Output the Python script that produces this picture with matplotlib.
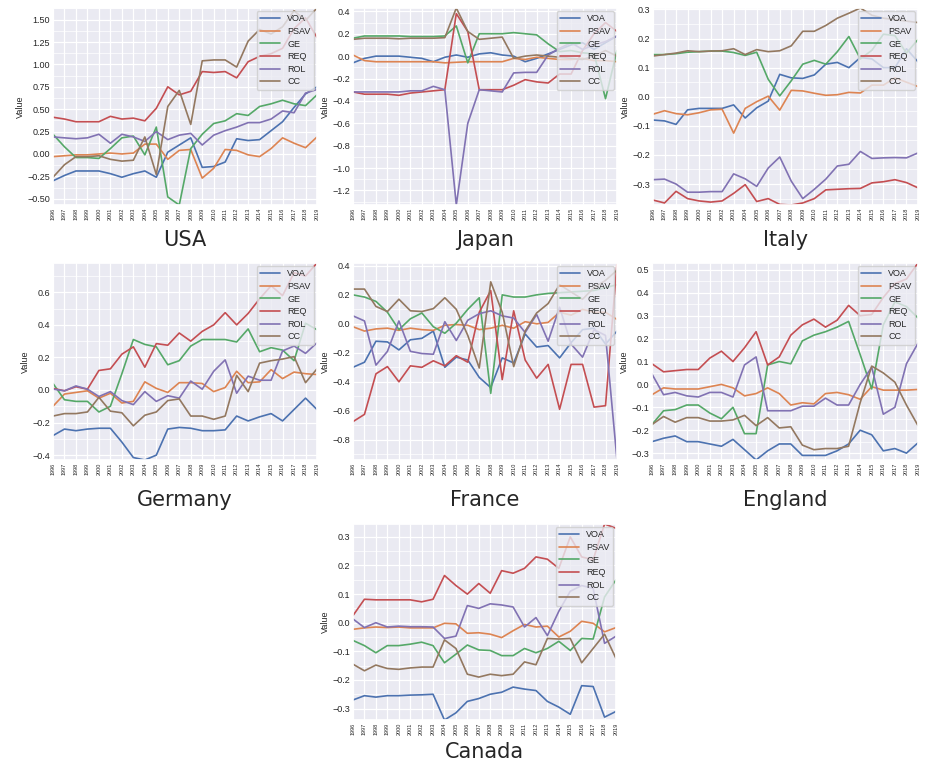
import matplotlib
matplotlib.use('Agg')
import matplotlib.pyplot as plt
from matplotlib.ticker import AutoMinorLocator, MultipleLocator
import seaborn as sns

# governance indicators per country, 1996-2019
years = [str(y) for y in range(1996, 2020)]
indicators = ['VOA', 'PSAV', 'GE', 'REQ', 'ROL', 'CC']

usa = {
    'VOA':  [-0.30, -0.24, -0.19, -0.19, -0.19, -0.22, -0.26, -0.22, -0.19, -0.26, 0.02, 0.10,
             0.18, -0.15, -0.14, -0.09, 0.17, 0.15, 0.16, 0.26, 0.36, 0.52, 0.67, 0.75],
    'PSAV': [-0.03, -0.02, -0.01, -0.01, 0.00, 0.01, 0.00, 0.01, 0.11, 0.11, -0.06, 0.04,
             0.05, -0.27, -0.16, 0.05, 0.04, -0.01, -0.03, 0.06, 0.18, 0.12, 0.07, 0.19],
    'GE':   [0.22, 0.08, -0.04, -0.04, -0.05, 0.06, 0.18, 0.20, -0.01, 0.30, -0.48, -0.57,
             0.06, 0.22, 0.34, 0.37, 0.45, 0.43, 0.53, 0.56, 0.60, 0.56, 0.54, 0.66],
    'REQ':  [0.41, 0.39, 0.36, 0.36, 0.36, 0.42, 0.39, 0.40, 0.37, 0.51, 0.75, 0.66,
             0.70, 0.92, 0.91, 0.92, 0.85, 1.03, 1.09, 1.12, 1.18, 1.40, 1.52, 1.30],
    'ROL':  [0.19, 0.18, 0.17, 0.18, 0.22, 0.12, 0.22, 0.19, 0.14, 0.25, 0.16, 0.21,
             0.23, 0.10, 0.21, 0.26, 0.30, 0.35, 0.35, 0.39, 0.48, 0.46, 0.68, 0.72],
    'CC':   [-0.26, -0.12, -0.03, -0.03, -0.02, -0.06, -0.08, -0.07, 0.19, -0.23, 0.53, 0.71,
             0.33, 1.04, 1.05, 1.05, 0.97, 1.26, 1.39, 1.34, 1.42, 1.60, 1.49, 1.63],
}

japan = {
    'VOA':  [-0.06, -0.02, 0.00, 0.00, 0.00, -0.01, -0.02, -0.05, -0.01, 0.01, -0.01, 0.02,
             0.03, 0.01, 0.00, -0.05, -0.02, 0.02, 0.06, 0.10, 0.12, 0.06, 0.12, 0.18],
    'PSAV': [0.01, -0.04, -0.05, -0.05, -0.05, -0.05, -0.05, -0.05, -0.06, -0.055, -0.05, -0.05,
             -0.05, -0.05, -0.02, -0.03, -0.01, -0.02, -0.03, -0.03, -0.02, -0.04, -0.04, -0.05],
    'GE':   [0.16, 0.18, 0.18, 0.18, 0.18, 0.175, 0.175, 0.175, 0.18, 0.27, -0.06, 0.20,
             0.20, 0.20, 0.21, 0.20, 0.19, 0.11, 0.04, 0.05, 0.03, 0.02, -0.38, 0.05],
    'REQ':  [-0.32, -0.34, -0.34, -0.34, -0.35, -0.33, -0.32, -0.31, -0.30, 0.38, 0.22, -0.30,
             -0.30, -0.30, -0.26, -0.21, -0.23, -0.24, -0.16, -0.16, 0.05, 0.20, 0.30, 0.22],
    'ROL':  [-0.32, -0.32, -0.32, -0.32, -0.32, -0.31, -0.31, -0.27, -0.30, -1.33, -0.60, -0.30,
             -0.31, -0.32, -0.15, -0.145, -0.145, 0.01, 0.07, 0.12, 0.06, 0.10, 0.13, 0.18],
    'CC':   [0.15, 0.16, 0.16, 0.16, 0.155, 0.16, 0.16, 0.16, 0.165, 0.43, 0.22, 0.15,
             0.16, 0.17, -0.02, 0.00, 0.01, 0.00, -0.01, -0.02, -0.03, 0.00, 0.05, 0.00],
}

italy = {
    'VOA':  [-0.08, -0.083, -0.095, -0.045, -0.04, -0.04, -0.04, -0.028, -0.073, -0.038, -0.015, 0.077,
             0.065, 0.063, 0.075, 0.112, 0.118, 0.10, 0.135, 0.13, 0.10, 0.10, 0.165, 0.12],
    'PSAV': [-0.06, -0.048, -0.058, -0.062, -0.055, -0.045, -0.043, -0.125, -0.04, -0.017, 0.002, -0.046,
             0.022, 0.02, 0.012, 0.005, 0.007, 0.015, 0.013, 0.04, 0.04, 0.065, 0.05, 0.035],
    'GE':   [0.145, 0.145, 0.148, 0.153, 0.155, 0.157, 0.157, 0.152, 0.142, 0.153, 0.06, 0.003,
             0.055, 0.112, 0.125, 0.112, 0.155, 0.207, 0.13, 0.16, 0.215, 0.21, 0.15, 0.197],
    'REQ':  [-0.355, -0.365, -0.325, -0.35, -0.358, -0.362, -0.358, -0.332, -0.302, -0.36, -0.35, -0.37,
             -0.372, -0.365, -0.35, -0.32, -0.318, -0.316, -0.315, -0.296, -0.292, -0.285, -0.295, -0.313],
    'ROL':  [-0.285, -0.283, -0.30, -0.328, -0.328, -0.326, -0.326, -0.265, -0.282, -0.308, -0.245, -0.207,
             -0.29, -0.35, -0.318, -0.283, -0.238, -0.232, -0.188, -0.212, -0.21, -0.209, -0.21, -0.193],
    'CC':   [0.14, 0.145, 0.15, 0.158, 0.155, 0.157, 0.158, 0.165, 0.145, 0.162, 0.155, 0.158,
             0.175, 0.225, 0.225, 0.245, 0.27, 0.287, 0.305, 0.28, 0.27, 0.265, 0.26, 0.255],
}

germany = {
    'VOA':  [-0.28, -0.24, -0.25, -0.24, -0.235, -0.235, -0.32, -0.415, -0.43, -0.40, -0.24, -0.23,
             -0.235, -0.25, -0.25, -0.245, -0.16, -0.19, -0.165, -0.145, -0.19, -0.12, -0.05, -0.12],
    'PSAV': [-0.10, -0.025, -0.015, -0.005, -0.05, -0.02, -0.08, -0.07, 0.05, 0.01, -0.015, 0.045,
             0.045, 0.04, -0.01, 0.015, 0.115, 0.045, 0.05, 0.125, 0.07, 0.11, 0.10, 0.095],
    'GE':   [0.04, -0.06, -0.07, -0.07, -0.135, -0.10, 0.10, 0.31, 0.28, 0.265, 0.155, 0.18,
             0.27, 0.31, 0.31, 0.31, 0.295, 0.375, 0.235, 0.26, 0.245, 0.18, 0.41, 0.37],
    'REQ':  [0.01, -0.005, 0.02, 0.005, 0.12, 0.13, 0.22, 0.265, 0.14, 0.285, 0.275, 0.35,
             0.30, 0.36, 0.40, 0.475, 0.40, 0.47, 0.56, 0.64, 0.58, 0.72, 0.70, 0.78],
    'ROL':  [0.005, -0.005, 0.025, 0.005, -0.04, -0.01, -0.065, -0.09, -0.01, -0.07, -0.035, -0.05,
             0.055, 0.005, 0.115, 0.185, -0.02, 0.085, 0.06, 0.06, 0.24, 0.27, 0.225, 0.29],
    'CC':   [-0.16, -0.145, -0.145, -0.135, -0.045, -0.13, -0.14, -0.22, -0.155, -0.135, -0.065, -0.055,
             -0.16, -0.16, -0.18, -0.16, 0.09, -0.01, 0.165, 0.18, 0.19, 0.205, 0.045, 0.13],
}

france = {
    'VOA':  [-0.30, -0.265, -0.12, -0.125, -0.18, -0.11, -0.10, -0.05, -0.30, -0.23, -0.25, -0.37,
             -0.44, -0.235, -0.27, -0.07, -0.16, -0.15, -0.235, -0.13, -0.04, -0.03, -0.14, -0.05],
    'PSAV': [-0.02, -0.05, -0.035, -0.03, -0.045, -0.03, -0.04, -0.045, -0.01, -0.005, -0.01, -0.04,
             -0.03, -0.01, -0.03, 0.015, 0.0, 0.01, 0.08, 0.06, 0.10, 0.08, 0.08, 0.03],
    'GE':   [0.20, 0.185, 0.155, 0.08, -0.04, 0.035, 0.075, -0.02, -0.065, 0.005, 0.10, 0.18,
             -0.48, 0.20, 0.185, 0.185, 0.20, 0.21, 0.215, 0.22, 0.225, 0.23, 0.25, 0.27],
    'REQ':  [-0.675, -0.625, -0.345, -0.295, -0.40, -0.29, -0.30, -0.255, -0.29, -0.22, -0.265, 0.08,
             0.23, -0.385, 0.09, -0.25, -0.375, -0.28, -0.59, -0.28, -0.28, -0.575, -0.565, 0.42],
    'ROL':  [0.055, 0.02, -0.285, -0.19, 0.02, -0.19, -0.205, -0.21, 0.015, -0.115, 0.025, 0.07,
             0.09, 0.055, 0.04, -0.06, 0.065, -0.12, 0.115, -0.14, -0.23, -0.04, -0.08, -0.94],
    'CC':   [0.24, 0.24, 0.12, 0.085, 0.17, 0.09, 0.085, 0.105, 0.18, 0.10, -0.08, -0.305,
             0.29, 0.08, -0.295, -0.05, 0.075, 0.14, 0.27, 0.22, 0.17, 0.25, 0.30, 0.37],
}

england = {
    'VOA':  [-0.25, -0.235, -0.225, -0.25, -0.25, -0.26, -0.27, -0.24, -0.285, -0.33, -0.29, -0.26,
             -0.26, -0.31, -0.31, -0.31, -0.29, -0.26, -0.20, -0.22, -0.29, -0.28, -0.30, -0.255],
    'PSAV': [-0.045, -0.015, -0.02, -0.02, -0.02, -0.01, 0.0, -0.015, -0.05, -0.04, -0.015, -0.04,
             -0.09, -0.08, -0.085, -0.04, -0.035, -0.045, -0.065, -0.01, -0.025, -0.025, -0.025, -0.022],
    'GE':   [-0.175, -0.115, -0.11, -0.09, -0.09, -0.125, -0.15, -0.10, -0.215, -0.215, 0.085, 0.10,
             0.09, 0.19, 0.215, 0.23, 0.25, 0.275, 0.13, -0.02, 0.26, 0.36, 0.34, 0.29],
    'REQ':  [0.09, 0.055, 0.06, 0.065, 0.065, 0.115, 0.145, 0.10, 0.16, 0.23, 0.085, 0.12,
             0.215, 0.26, 0.285, 0.25, 0.28, 0.345, 0.30, 0.305, 0.38, 0.44, 0.46, 0.53],
    'ROL':  [0.045, -0.045, -0.035, -0.05, -0.055, -0.035, -0.035, -0.055, 0.085, 0.12, -0.115, -0.115,
             -0.115, -0.095, -0.095, -0.06, -0.09, -0.09, 0.0, 0.075, -0.13, -0.10, 0.09, 0.18],
    'CC':   [-0.175, -0.14, -0.165, -0.145, -0.145, -0.16, -0.16, -0.155, -0.135, -0.18, -0.145, -0.19,
             -0.185, -0.265, -0.285, -0.28, -0.28, -0.27, -0.08, 0.08, 0.05, 0.01, -0.09, -0.18],
}

canada = {
    'VOA':  [-0.27, -0.255, -0.26, -0.255, -0.255, -0.253, -0.252, -0.25, -0.34, -0.315, -0.275, -0.265,
             -0.25, -0.243, -0.225, -0.232, -0.237, -0.275, -0.295, -0.32, -0.22, -0.223, -0.33, -0.31],
    'PSAV': [-0.023, -0.018, -0.015, -0.017, -0.015, -0.018, -0.018, -0.018, -0.002, -0.004, -0.037, -0.035,
             -0.04, -0.052, -0.028, -0.006, -0.015, -0.012, -0.05, -0.03, 0.005, -0.002, -0.032, -0.017],
    'GE':   [-0.062, -0.08, -0.105, -0.08, -0.08, -0.075, -0.068, -0.08, -0.14, -0.11, -0.078, -0.095,
             -0.097, -0.115, -0.115, -0.09, -0.105, -0.09, -0.065, -0.097, -0.055, -0.057, 0.09, 0.15],
    'REQ':  [0.025, 0.082, 0.08, 0.08, 0.08, 0.08, 0.073, 0.082, 0.165, 0.13, 0.10, 0.137,
             0.103, 0.182, 0.173, 0.19, 0.23, 0.222, 0.19, 0.30, 0.23, 0.22, 0.345, 0.33],
    'ROL':  [0.013, -0.017, 0.0, -0.015, -0.012, -0.014, -0.014, -0.015, -0.055, -0.047, 0.06, 0.05,
             0.066, 0.062, 0.055, -0.015, 0.018, -0.045, 0.04, 0.11, 0.13, 0.12, -0.072, -0.047],
    'CC':   [-0.145, -0.168, -0.148, -0.16, -0.163, -0.158, -0.155, -0.155, -0.06, -0.09, -0.18, -0.19,
             -0.18, -0.185, -0.18, -0.137, -0.147, -0.055, -0.057, -0.055, -0.14, -0.09, -0.04, -0.125],
}

W, H = 931, 764

# (data, name, y tick step, axes box in pixels: left, top, right, bottom, label y)
panels = [
    (usa,     'USA',     0.25, (53, 8, 317, 205), 240),
    (japan,   'Japan',   0.2,  (353, 8, 617, 205), 240),
    (italy,   'Italy',   0.1,  (653, 8, 918, 205), 240),
    (germany, 'Germany', 0.2,  (53, 263, 317, 460), 500),
    (france,  'France',  0.2,  (353, 263, 617, 460), 500),
    (england, 'England', 0.1,  (652, 263, 918, 460), 500),
    (canada,  'Canada',  0.1,  (353, 524, 616, 720), 752),
]


def plot_country(ax, data, step):
    colors = sns.color_palette('deep', len(indicators))
    for name, color in zip(indicators, colors):
        ax.plot(years, data[name], color=color, lw=1.2, label=name)
    ax.margins(x=0, y=0)
    ax.yaxis.set_major_locator(MultipleLocator(step))
    ax.yaxis.set_minor_locator(AutoMinorLocator(2))
    ax.grid(which='minor', axis='y', color='white', lw=0.5)
    ax.grid(which='major', color='white', lw=0.9)
    ax.tick_params(axis='x', labelsize=4, rotation=90, pad=2)
    ax.tick_params(axis='y', labelsize=6.5, pad=2)
    ax.tick_params(which='both', length=0)
    ax.set_ylabel('Value', fontsize=6.5, labelpad=2)
    ax.legend(loc='upper right', fontsize=6.5, borderaxespad=0.3,
              handlelength=2.2, labelspacing=0.4)


def main():
    sns.set_theme(style='darkgrid')
    plt.rcParams['font.family'] = ['Liberation Sans', 'DejaVu Sans']

    fig = plt.figure(figsize=(W / 100, H / 100), dpi=100)
    for data, name, step, (l, t, r, b), label_y in panels:
        ax = fig.add_axes([l / W, 1 - b / H, (r - l) / W, (b - t) / H])
        plot_country(ax, data, step)
        fig.text((l + r) / 2 / W, 1 - label_y / H, name, ha='center', va='center',
                 fontsize=15, family='DejaVu Sans')

    fig.savefig('out.png', dpi=100)


if __name__ == '__main__':
    main()
